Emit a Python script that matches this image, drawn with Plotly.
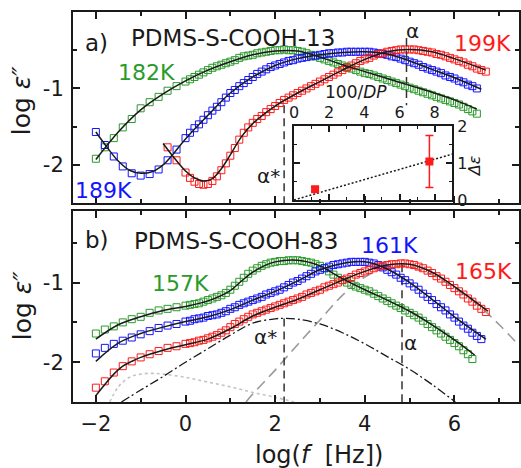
import plotly.graph_objects as go

FONT = "DejaVu Sans, Liberation Sans, Arial, sans-serif"
GREEN = "#2a9a2a"
BLUE = "#1414ff"
RED = "#ff1a1a"
INK = "#1a1a1a"

# log(f/Hz) grid of the measured points
LOGF = [-2.0, -1.8, -1.6, -1.4, -1.2, -1.0, -0.8, -0.6, -0.4, -0.2,
        0.0, 0.1, 0.2, 0.3, 0.4, 0.5, 0.6, 0.7, 0.8, 0.9,
        1.0, 1.1, 1.2, 1.3, 1.4, 1.5, 1.6, 1.7, 1.8, 1.9,
        2.0, 2.1, 2.2, 2.3, 2.4, 2.5, 2.6, 2.7, 2.8, 2.9,
        3.0, 3.1, 3.2, 3.3, 3.4, 3.5, 3.6, 3.7, 3.8, 3.9,
        4.0, 4.1, 4.2, 4.3, 4.4, 4.5, 4.6, 4.7, 4.8, 4.9,
        5.0, 5.1, 5.2, 5.3, 5.4, 5.5, 5.6, 5.7, 5.8, 5.9,
        6.0, 6.1, 6.2, 6.3, 6.4, 6.5, 6.6, 6.7]

# ---- panel a) PDMS-S-COOH-13 ----
A_182K = [-1.92, -1.77, -1.65, -1.51, -1.40, -1.26, -1.18, -1.11, -1.03, -0.97,
          -0.91, -0.88, -0.85, -0.82, -0.79, -0.76, -0.73, -0.71, -0.69, -0.67,
          -0.65, -0.63, -0.60, -0.58, -0.57, -0.56, -0.54, -0.53, -0.52, -0.51,
          -0.50, -0.50, -0.49, -0.50, -0.50, -0.51, -0.52, -0.54, -0.56, -0.58,
          -0.60, -0.62, -0.64, -0.66, -0.68, -0.70, -0.72, -0.74, -0.76, -0.78,
          -0.80, -0.81, -0.83, -0.85, -0.87, -0.89, -0.91, -0.93, -0.95, -0.97,
          -0.99, -1.01, -1.03, -1.05, -1.07, -1.09, -1.11, -1.13, -1.15, -1.17,
          -1.19, -1.21, -1.24, -1.27, -1.30, -1.33]
A_189K = [-1.57, -1.74, -1.89, -2.02, -2.11, -2.14, -2.12, -2.06, -1.94, -1.80,
          -1.65, -1.58, -1.52, -1.47, -1.41, -1.35, -1.29, -1.24, -1.18, -1.12,
          -1.06, -1.02, -0.97, -0.93, -0.89, -0.85, -0.81, -0.78, -0.75, -0.72,
          -0.70, -0.68, -0.66, -0.64, -0.63, -0.61, -0.60, -0.59, -0.58, -0.57,
          -0.56, -0.55, -0.54, -0.54, -0.53, -0.53, -0.52, -0.52, -0.52, -0.52,
          -0.52, -0.52, -0.53, -0.54, -0.55, -0.56, -0.58, -0.59, -0.61, -0.63,
          -0.65, -0.67, -0.69, -0.72, -0.74, -0.76, -0.78, -0.80, -0.83, -0.85,
          -0.87, -0.90, -0.92, -0.95, -0.97, -1.00]
A_199K_START = 8  # first point at log f = -0.4
A_199K = [-1.77, -1.94,
          -2.10, -2.17, -2.22, -2.25, -2.26, -2.25, -2.21, -2.15, -2.07, -1.98,
          -1.88, -1.78, -1.67, -1.58, -1.51, -1.45, -1.40, -1.36, -1.31, -1.27,
          -1.23, -1.19, -1.15, -1.12, -1.09, -1.06, -1.03, -1.00, -0.97, -0.94,
          -0.91, -0.88, -0.85, -0.82, -0.79, -0.76, -0.73, -0.70, -0.67, -0.64,
          -0.62, -0.60, -0.57, -0.55, -0.54, -0.52, -0.51, -0.50, -0.49, -0.49,
          -0.49, -0.49, -0.50, -0.51, -0.52, -0.53, -0.55, -0.56, -0.58, -0.60,
          -0.62, -0.64, -0.66, -0.69, -0.71, -0.74, -0.76, -0.78]

FIT_A_182K_X = [-2.0, -1.5, -1.0, -0.5, 0.0, 0.5, 1.0, 1.5, 2.0, 2.5, 3.0, 3.5, 4.0, 4.5, 5.0, 5.5, 6.0, 6.5]
FIT_A_182K_Y = [-1.93, -1.57, -1.28, -1.07, -0.90, -0.76, -0.65, -0.56, -0.51, -0.51, -0.59, -0.69, -0.78, -0.87, -0.96, -1.05, -1.15, -1.27]
FIT_A_189K_X = [-2.0, -1.75, -1.5, -1.25, -1.0, -0.75, -0.5, -0.25, 0.0, 0.5, 1.0, 1.5, 2.0, 2.5, 3.0, 3.5, 4.0, 4.5, 5.0, 5.5, 6.0, 6.6]
FIT_A_189K_Y = [-1.57, -1.77, -1.95, -2.07, -2.11, -2.09, -2.00, -1.84, -1.66, -1.35, -1.06, -0.85, -0.70, -0.61, -0.56, -0.53, -0.52, -0.55, -0.64, -0.75, -0.86, -1.01]
FIT_A_199K_X = [-0.5, -0.25, 0.0, 0.2, 0.4, 0.6, 0.8, 1.0, 1.25, 1.5, 2.0, 2.5, 3.0, 3.5, 4.0, 4.5, 5.0, 5.5, 6.0, 6.7]
FIT_A_199K_Y = [-1.72, -1.91, -2.08, -2.17, -2.21, -2.18, -2.05, -1.87, -1.63, -1.46, -1.23, -1.06, -0.91, -0.76, -0.62, -0.52, -0.49, -0.52, -0.61, -0.76]

# ---- panel b) PDMS-S-COOH-83 ----
B_157K = [-1.64, -1.59, -1.55, -1.50, -1.46, -1.43, -1.38, -1.35, -1.33, -1.31,
          -1.29, -1.28, -1.27, -1.26, -1.24, -1.22, -1.20, -1.18, -1.16, -1.13,
          -1.09, -1.04, -0.99, -0.94, -0.89, -0.85, -0.82, -0.79, -0.77, -0.75,
          -0.74, -0.73, -0.73, -0.72, -0.72, -0.72, -0.73, -0.74, -0.75, -0.77,
          -0.79, -0.82, -0.86, -0.90, -0.94, -0.97, -1.00, -1.03, -1.05, -1.07,
          -1.09, -1.11, -1.14, -1.17, -1.20, -1.23, -1.26, -1.29, -1.32, -1.35,
          -1.38, -1.41, -1.44, -1.48, -1.52, -1.56, -1.60, -1.64, -1.68, -1.72,
          -1.76, -1.80, -1.85, -1.90, -1.96]
B_161K = [-1.89, -1.82, -1.77, -1.73, -1.69, -1.65, -1.61, -1.57, -1.54, -1.52,
          -1.49, -1.48, -1.46, -1.45, -1.44, -1.42, -1.41, -1.40, -1.38, -1.36,
          -1.33, -1.31, -1.28, -1.26, -1.24, -1.22, -1.20, -1.18, -1.15, -1.13,
          -1.11, -1.09, -1.06, -1.03, -1.00, -0.98, -0.95, -0.92, -0.89, -0.86,
          -0.84, -0.82, -0.80, -0.78, -0.77, -0.76, -0.75, -0.74, -0.74, -0.74,
          -0.74, -0.75, -0.76, -0.78, -0.81, -0.84, -0.87, -0.90, -0.94, -0.97,
          -1.01, -1.05, -1.09, -1.14, -1.18, -1.22, -1.27, -1.31, -1.35, -1.40,
          -1.44, -1.49, -1.54, -1.58, -1.63, -1.67, -1.71]
B_165K = [-2.32, -2.24, -2.13, -2.05, -1.99, -1.94, -1.90, -1.86, -1.82, -1.80,
          -1.77, -1.76, -1.75, -1.73, -1.72, -1.70, -1.68, -1.66, -1.63, -1.60,
          -1.56, -1.52, -1.49, -1.46, -1.43, -1.40, -1.38, -1.36, -1.34, -1.32,
          -1.30, -1.28, -1.26, -1.24, -1.22, -1.20, -1.18, -1.15, -1.13, -1.11,
          -1.09, -1.06, -1.04, -1.02, -1.00, -0.97, -0.95, -0.93, -0.90, -0.88,
          -0.86, -0.84, -0.82, -0.80, -0.79, -0.78, -0.77, -0.77, -0.76, -0.76,
          -0.77, -0.78, -0.80, -0.82, -0.85, -0.88, -0.92, -0.95, -0.99, -1.03,
          -1.07, -1.11, -1.15, -1.20, -1.24, -1.29, -1.33, -1.37]

FIT_B_157K_X = [-2.0, -1.5, -1.0, -0.5, 0.0, 0.5, 1.0, 1.25, 1.5, 1.75, 2.0, 2.5, 3.0, 3.25, 3.5, 4.0, 4.5, 5.0, 5.5, 6.0, 6.45]
FIT_B_157K_Y = [-1.71, -1.53, -1.43, -1.35, -1.30, -1.23, -1.10, -0.98, -0.87, -0.79, -0.74, -0.72, -0.79, -0.87, -0.95, -1.09, -1.22, -1.36, -1.53, -1.72, -1.91]
FIT_B_161K_X = [-2.0, -1.5, -1.0, -0.5, 0.0, 0.5, 1.0, 1.5, 2.0, 2.5, 3.0, 3.5, 4.0, 4.5, 5.0, 5.5, 6.0, 6.7]
FIT_B_161K_Y = [-1.99, -1.76, -1.64, -1.56, -1.49, -1.43, -1.34, -1.22, -1.11, -0.98, -0.84, -0.76, -0.74, -0.83, -1.00, -1.21, -1.43, -1.71]
FIT_B_165K_X = [-2.0, -1.8, -1.6, -1.4, -1.2, -1.0, -0.5, 0.0, 0.5, 1.0, 1.5, 2.0, 2.5, 3.0, 3.5, 4.0, 4.5, 5.0, 5.5, 6.0, 6.75]
FIT_B_165K_Y = [-2.42, -2.28, -2.15, -2.05, -1.99, -1.94, -1.85, -1.78, -1.71, -1.58, -1.42, -1.31, -1.21, -1.09, -0.97, -0.86, -0.78, -0.77, -0.87, -1.05, -1.36]

# fit components (165K)
ASTAR_X = [-1.43, -1.0, -0.5, 0.0, 0.5, 1.0, 1.5, 2.0, 2.2, 2.5, 3.0, 3.5, 4.0, 4.5, 5.0, 5.5, 6.02]
ASTAR_Y = [-2.50, -2.35, -2.18, -2.00, -1.83, -1.66, -1.51, -1.455, -1.45, -1.46, -1.52, -1.63, -1.77, -1.93, -2.09, -2.28, -2.50]
ALPHA_X = [1.35, 1.5, 2.0, 2.5, 3.0, 3.5, 4.0, 4.5, 4.85, 5.0, 5.5, 6.0, 6.5, 7.0, 7.44]
ALPHA_Y = [-2.50, -2.40, -2.10, -1.78, -1.47, -1.16, -0.93, -0.81, -0.79, -0.80, -0.90, -1.07, -1.27, -1.53, -1.79]
LOWF_X = [-1.69, -1.5, -1.25, -1.0, -0.75, -0.5, 0.0, 0.5, 1.0, 1.5, 2.0, 2.42]
LOWF_Y = [-2.50, -2.31, -2.19, -2.15, -2.14, -2.15, -2.19, -2.25, -2.31, -2.38, -2.44, -2.50]

# peak markers (log f) and the heights the guide lines span
PEAK_A_ALPHA = 4.93
PEAK_A_ALPHA_SPAN = [-0.34, -1.22]
PEAK_A_ASTAR = 2.2
PEAK_A_ASTAR_SPAN = [-1.22, -2.5]
PEAK_B_ASTAR = 2.2
PEAK_B_ASTAR_SPAN = [-1.45, -2.5]
PEAK_B_ALPHA = 4.83
PEAK_B_ALPHA_SPAN = [-0.77, -2.5]

# inset: delta-epsilon vs 100/DP
INV_DP = [1.2, 7.7]
DELTA_EPS = [0.29, 1.04]
DELTA_EPS_ERR = [0.06, 0.70]
TREND_X = [0.0, 9.0]
TREND_Y = [0.0, 1.24]

XR = [-2.51, 7.44]

fig = go.Figure()


def squares(x, y, color, xa, ya):
    fig.add_trace(go.Scatter(x=x, y=y, mode="markers", xaxis=xa, yaxis=ya,
                             marker=dict(symbol="square-open", size=7, color=color,
                                         line=dict(width=1, color=color)),
                             hoverinfo="skip"))


def line(x, y, xa, ya, color=INK, width=1.5, dash="solid", shape="spline"):
    fig.add_trace(go.Scatter(x=x, y=y, mode="lines", xaxis=xa, yaxis=ya,
                             line=dict(color=color, width=width, dash=dash, shape=shape),
                             hoverinfo="skip"))


# panel a
squares(LOGF[:len(A_182K)], A_182K, GREEN, "x2", "y2")
squares(LOGF[:len(A_189K)], A_189K, BLUE, "x2", "y2")
squares(LOGF[A_199K_START:A_199K_START + len(A_199K)], A_199K, RED, "x2", "y2")
line(FIT_A_182K_X, FIT_A_182K_Y, "x2", "y2")
line(FIT_A_189K_X, FIT_A_189K_Y, "x2", "y2")
line(FIT_A_199K_X, FIT_A_199K_Y, "x2", "y2")
line([PEAK_A_ALPHA, PEAK_A_ALPHA], PEAK_A_ALPHA_SPAN, "x2", "y2", color="#333", dash="8px,5px", shape="linear")
line([PEAK_A_ASTAR, PEAK_A_ASTAR], PEAK_A_ASTAR_SPAN, "x2", "y2", color="#333", dash="8px,5px", shape="linear")

# panel b components
line(LOWF_X, LOWF_Y, "x", "y", color="#c4c4c4", width=1.6, dash="3px,3px")
line(ALPHA_X, ALPHA_Y, "x", "y", color="#9a9a9a", width=1.6, dash="11px,6px")
line(ASTAR_X, ASTAR_Y, "x", "y", color=INK, width=1.3, dash="9px,3px,2px,3px")
line([PEAK_B_ASTAR, PEAK_B_ASTAR], PEAK_B_ASTAR_SPAN, "x", "y", color="#333", dash="8px,5px", shape="linear")
line([PEAK_B_ALPHA, PEAK_B_ALPHA], PEAK_B_ALPHA_SPAN, "x", "y", color="#333", dash="8px,5px", shape="linear")

squares(LOGF[:len(B_157K)], B_157K, GREEN, "x", "y")
squares(LOGF[:len(B_161K)], B_161K, BLUE, "x", "y")
squares(LOGF[:len(B_165K)], B_165K, RED, "x", "y")
line(FIT_B_157K_X, FIT_B_157K_Y, "x", "y")
line(FIT_B_161K_X, FIT_B_161K_Y, "x", "y")
line(FIT_B_165K_X, FIT_B_165K_Y, "x", "y")

# inset
line(TREND_X, TREND_Y, "x3", "y3", color=INK, width=1.5, dash="2px,2px", shape="linear")
fig.add_trace(go.Scatter(x=INV_DP, y=DELTA_EPS, mode="markers", xaxis="x3", yaxis="y3",
                         marker=dict(symbol="square", size=8, color=RED),
                         error_y=dict(type="data", array=DELTA_EPS_ERR, color=RED,
                                      thickness=1.5, width=4),
                         hoverinfo="skip"))

tick = dict(showline=True, linecolor=INK, linewidth=2, mirror="ticks", ticks="inside",
            tickwidth=1.6, tickcolor=INK, showgrid=False, zeroline=False,
            tickfont=dict(family=FONT, size=21, color=INK))
minor_main = dict(ticks="inside", ticklen=4, tickwidth=1.6, tickcolor=INK, tickmode="array")
minor_inset = dict(ticks="inside", ticklen=3.5, tickwidth=1.3, tickcolor=INK, tickmode="array")

fig.update_layout(
    width=521, height=468, margin=dict(l=73, r=0, t=12, b=66),
    paper_bgcolor="white", plot_bgcolor="rgba(0,0,0,0)", showlegend=False,
    font=dict(family=FONT, color=INK),
    xaxis=dict(tick, domain=[0, 1], anchor="y", range=XR, ticklen=7,
               tickmode="array", tickvals=[-2, 0, 2, 4, 6], ticklabelstandoff=2,
               minor=dict(minor_main, tickvals=[-1, 1, 3, 5, 7])),
    yaxis=dict(tick, domain=[0, 0.490], anchor="x", range=[-2.5, -0.1], ticklen=7,
               tickmode="array", tickvals=[-2, -1], ticktext=["-2", "-1"], ticklabelstandoff=3,
               minor=dict(minor_main, tickvals=[-1.5, -0.5])),
    xaxis2=dict(tick, domain=[0, 1], anchor="y2", range=XR, ticklen=7, showticklabels=False,
                tickmode="array", tickvals=[-2, 0, 2, 4, 6],
                minor=dict(minor_main, tickvals=[-1, 1, 3, 5, 7])),
    yaxis2=dict(tick, domain=[0.510, 1], anchor="x2", range=[-2.5, 0], ticklen=7,
                tickmode="array", tickvals=[-2, -1], ticktext=["-2", "-1"], ticklabelstandoff=3,
                minor=dict(minor_main, tickvals=[-1.5, -0.5])),
    xaxis3=dict(tick, domain=[0.4955, 0.8504], anchor="y3", side="top", range=[0, 9],
                ticklen=6, linewidth=1.6, tickmode="array", tickvals=[0, 2, 4, 6, 8],
                tickfont=dict(family=FONT, size=16, color=INK),
                minor=dict(minor_inset, tickvals=[1, 3, 5, 7])),
    yaxis3=dict(tick, domain=[0.518, 0.7077], anchor="x3", side="right", range=[0, 2],
                ticklen=6, linewidth=1.6, tickmode="array", tickvals=[0, 1, 2],
                tickfont=dict(family=FONT, size=16, color=INK),
                minor=dict(minor_inset, tickvals=[0.5, 1.5])),
)


def px(x):
    return (x - 73) / 448


def py(y):
    return (402 - y) / 390


def label(text, x, y, size=22, color=INK, xanchor="center", angle=0):
    fig.add_annotation(text=text, x=px(x), y=py(y), xref="paper", yref="paper",
                       xanchor=xanchor, yanchor="middle", showarrow=False, textangle=angle,
                       font=dict(family=FONT, size=size, color=color))


label("a)", 97, 43, size=23)
label("PDMS-S-COOH-13", 129, 38, size=23, xanchor="left")
label("182K", 147, 72, color=GREEN)
label("189K", 104, 190, color=BLUE)
label("199K", 484, 43, color=RED)
label("α", 414, 31, size=20)
label("α*", 269, 176, size=20)
label("100/<i>DP</i>", 357, 92, size=17)
label("<i>Δε</i>", 476, 166, size=16, angle=-90)

label("b)", 97, 240, size=23)
label("PDMS-S-COOH-83", 132, 241, size=23, xanchor="left")
label("157K", 181, 283, color=GREEN)
label("161K", 391, 245, color=BLUE)
label("165K", 485, 271, color=RED)
label("α*", 266, 337, size=20)
label("α", 412, 343, size=20)

label("log <i>ε″</i>", 22, 100, size=25, angle=-90)
label("log <i>ε″</i>", 22, 305, size=25, angle=-90)
label("log(<i>f</i>&nbsp;&nbsp;[Hz])", 320, 455, size=24)

fig.write_html("out.html")
